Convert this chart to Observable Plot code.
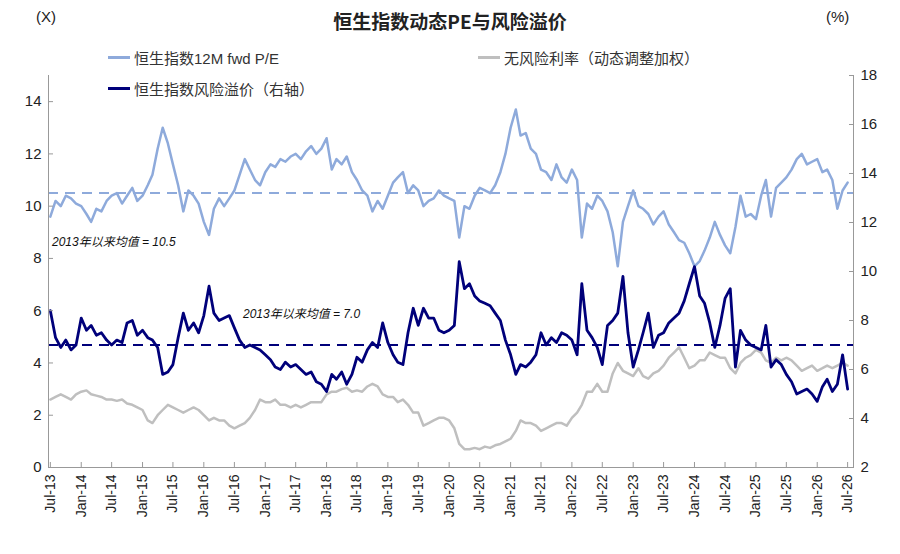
<!DOCTYPE html>
<html><head><meta charset="utf-8">
<script src="https://cdn.jsdelivr.net/npm/d3@7"></script>
<script src="https://cdn.jsdelivr.net/npm/@observablehq/plot@0.6"></script>
<style>
body{margin:0;background:#fff;font-family:"Liberation Sans",Arial,"Noto Sans CJK SC",sans-serif;}
#wrap{position:relative;width:900px;height:554px;}
.t{position:absolute;white-space:nowrap;color:#222;}
.leg{position:absolute;font-size:15px;color:#333;white-space:nowrap;display:flex;align-items:center;}
.leg span.l{display:inline-block;width:22px;height:3px;margin-right:4px;}
.ann{position:absolute;font-style:italic;font-size:12px;color:#111;white-space:nowrap;}
</style></head><body>
<div id="wrap"></div>
<script>
const start = new Date(Date.UTC(2013,6,1));
const dates = d3.utcMonth.range(start, new Date(Date.UTC(2026,7,1)));
const pe = [
9.6,10.2,10.0,10.4,10.3,10.1,
10.0,9.7,9.4,9.9,9.8,10.2,10.4,10.5,10.1,10.4,10.7,10.2,
10.4,10.8,11.2,12.2,13.0,12.4,11.6,10.8,9.8,10.6,10.4,10.1,
9.4,8.9,9.9,10.3,10.0,10.3,10.6,11.2,11.8,11.4,11.0,10.8,
11.3,11.6,11.5,11.8,11.7,11.9,12.0,11.8,12.1,12.3,12.0,12.2,
12.6,11.4,11.8,11.6,11.9,11.3,11.0,10.6,10.4,9.8,10.2,9.9,
10.4,10.9,11.1,11.3,10.5,10.8,10.6,10.0,10.2,10.3,10.6,10.4,
10.3,10.2,8.8,10.0,9.9,10.4,10.7,10.6,10.5,10.8,11.3,12.0,
13.0,13.7,12.7,12.8,12.2,12.0,11.4,11.3,11.0,11.6,11.1,10.9,
11.4,11.0,8.8,10.1,9.9,10.4,10.2,9.8,9.0,7.7,9.4,10.0,
10.6,10.0,9.9,9.7,9.3,9.6,9.8,9.3,9.0,8.7,8.6,8.2,
7.7,7.9,8.3,8.8,9.4,8.9,8.5,8.2,9.2,10.4,9.6,9.7,
9.5,10.4,11.0,9.6,10.7,10.9,11.1,11.4,11.8,12.0,11.6,11.7,
11.8,11.3,11.4,11.0,9.9,10.6,10.9];
const premium = [
8.4,7.3,6.9,7.2,6.8,7.0,
8.1,7.6,7.8,7.4,7.5,7.2,7.0,7.2,7.1,7.9,8.0,7.4,
7.6,7.3,7.2,6.9,5.8,5.9,6.2,7.3,8.3,7.6,7.9,7.5,
8.2,9.4,8.3,8.0,8.1,8.2,7.7,7.2,6.9,7.0,6.9,6.8,
6.6,6.4,6.1,6.0,6.3,6.1,6.2,6.0,5.8,5.9,5.5,5.4,
5.1,5.8,5.6,5.9,5.4,5.8,6.5,6.3,6.8,7.1,6.9,7.9,
7.1,6.6,6.3,6.2,7.5,8.5,7.8,8.5,8.1,8.1,7.6,7.5,
7.6,7.8,10.4,9.3,9.5,9.0,8.8,8.7,8.6,8.3,8.0,7.2,
6.6,5.8,6.2,6.1,6.3,6.6,7.5,7.0,7.3,7.1,7.5,7.4,
7.2,6.6,9.5,7.6,7.3,6.9,6.2,7.8,8.0,8.3,9.8,7.5,
6.1,6.8,7.5,8.3,6.9,7.4,7.5,7.9,8.1,8.3,8.8,9.5,
10.2,9.0,8.7,7.9,6.9,7.8,8.9,9.3,6.1,7.6,7.2,7.0,
6.9,6.8,7.8,6.1,6.4,6.2,5.8,5.5,5.0,5.1,5.2,5.0,
4.7,5.3,5.6,5.1,5.4,6.6,5.2];
const riskFree = [
2.6,2.7,2.8,2.7,2.6,2.8,
2.9,2.95,2.8,2.75,2.7,2.6,2.6,2.55,2.6,2.45,2.4,2.3,
2.2,1.8,1.7,2.0,2.2,2.4,2.3,2.2,2.1,2.2,2.3,2.2,
2.0,1.8,1.9,1.8,1.8,1.6,1.5,1.6,1.7,1.9,2.2,2.6,
2.5,2.5,2.6,2.4,2.4,2.3,2.4,2.3,2.4,2.5,2.5,2.5,
2.8,2.9,2.9,3.0,3.05,2.9,2.95,2.9,3.1,3.2,3.1,2.8,
2.7,2.7,2.5,2.6,2.4,2.1,2.1,1.6,1.7,1.8,1.9,1.9,
1.8,1.5,0.9,0.7,0.7,0.75,0.7,0.8,0.75,0.85,0.9,1.0,
1.1,1.4,1.8,1.7,1.7,1.6,1.4,1.5,1.6,1.7,1.7,1.6,
1.9,2.1,2.4,2.9,2.9,3.2,2.9,2.9,3.6,4.0,3.7,3.6,
3.5,3.8,3.5,3.4,3.6,3.7,3.9,4.2,4.4,4.6,4.2,3.8,
3.9,4.1,4.1,4.4,4.3,4.2,4.2,3.8,3.6,4.0,4.2,4.3,
4.5,4.4,4.1,4.0,4.2,4.1,4.2,4.1,3.9,3.7,3.8,3.9,
3.7,3.8,3.9,3.8,3.9,4.0,3.9];
const peMean = 10.5, premiumMean = 7.0;
const leftTicks = [0,2,4,6,8,10,12,14];
const rightTicks = [2,4,6,8,10,12,14,16,18];
const toLeft = r => (r-2)*15/16;

const rows = dates.map((d,i)=>({date:d, pe:pe[i], rf:riskFree[i], prem:toLeft(premium[i])}));
const xTicks = d3.utcMonth.every(6).range(start, new Date(Date.UTC(2026,7,1)));
const fmt = d3.utcFormat("%b-%y");

const chart = Plot.plot({
  width:900, height:554,
  marginLeft:48, marginRight:47, marginTop:75, marginBottom:87,
  style:{fontFamily:'"Liberation Sans",Arial,sans-serif', fontSize:"14px", color:"#222"},
  x:{type:"utc", domain:[new Date(Date.UTC(2013,5,20)), new Date(Date.UTC(2026,7,5))]},
  y:{domain:[0,15]},
  marks:[
    Plot.ruleY([peMean],{stroke:"#8eaadb",strokeWidth:2,strokeDasharray:"10,7"}),
    Plot.ruleY([toLeft(premiumMean)],{stroke:"#00007a",strokeWidth:2,strokeDasharray:"10,7"}),
    Plot.lineY(rows,{x:"date",y:"rf",stroke:"#bfbfbf",strokeWidth:2.5}),
    Plot.lineY(rows,{x:"date",y:"pe",stroke:"#8eaadb",strokeWidth:2.5}),
    Plot.lineY(rows,{x:"date",y:"prem",stroke:"#00007a",strokeWidth:2.8}),
    Plot.ruleX([new Date(Date.UTC(2013,5,20))],{stroke:"#999"}),
    Plot.ruleX([new Date(Date.UTC(2026,7,5))],{stroke:"#999"}),
    Plot.ruleY([0],{stroke:"#999"}),
    Plot.axisY({anchor:"left",ticks:leftTicks,tickSize:-5,tickPadding:12,label:null,stroke:"#999",fontSize:15}),
    Plot.axisY({anchor:"right",ticks:rightTicks.map(toLeft),tickFormat:v=>Math.round(v*16/15+2),tickSize:-5,tickPadding:12,label:null,stroke:"#999",fontSize:15}),
    Plot.axisX({ticks:xTicks,tickFormat:fmt,tickSize:-5,tickRotate:-90,tickPadding:12,label:null,stroke:"#999",fontSize:14})
  ]
});
const wrap = document.getElementById("wrap");
wrap.appendChild(chart);
function add(cls, html, css){const e=document.createElement("div");e.className=cls;e.innerHTML=html;Object.assign(e.style,css);wrap.appendChild(e);}
add("t","恒生指数动态PE与风险溢价",{left:"0",width:"900px",textAlign:"center",top:"7px",fontSize:"19px",fontWeight:"bold",fontFamily:'"Noto Sans CJK SC",sans-serif'});
add("t","(X)",{left:"36px",top:"8px",fontSize:"15px"});
add("t","(%)",{left:"826px",top:"8px",fontSize:"15px"});
add("leg",'<span class="l" style="background:#8eaadb"></span>恒生指数12M fwd P/E',{left:"108px",top:"47px"});
add("leg",'<span class="l" style="background:#bfbfbf"></span>无风险利率（动态调整加权）',{left:"478px",top:"47px"});
add("leg",'<span class="l" style="background:#00007a"></span>恒生指数风险溢价（右轴）',{left:"108px",top:"78px"});
add("ann","2013年以来均值 = 10.5",{left:"52px",top:"232px"});
add("ann","2013年以来均值 = 7.0",{left:"243px",top:"304px"});
</script></body></html>
